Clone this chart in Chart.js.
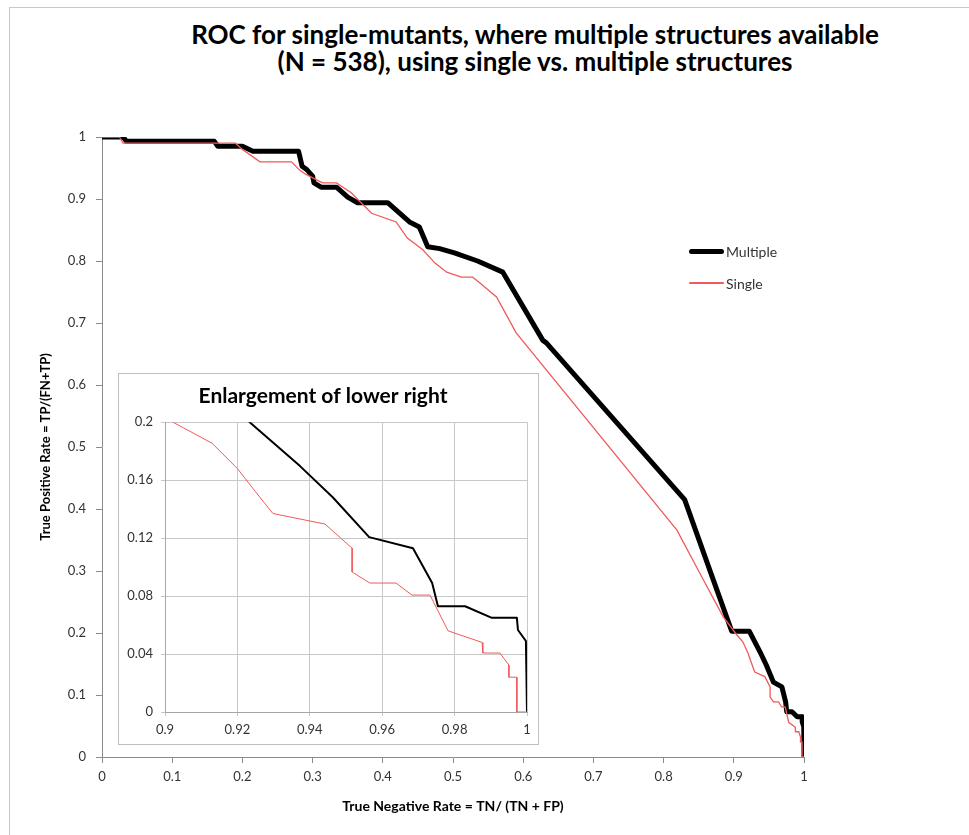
<!DOCTYPE html>
<html>
<head>
<meta charset="utf-8">
<script src="https://cdn.jsdelivr.net/npm/chart.js@4.4.1/dist/chart.umd.min.js"></script>
<style>
    body { margin: 0; background: #fff; font-family: Lato, "Open Sans", sans-serif; }
    #wrap { position: relative; width: 969px; height: 835px; overflow: hidden; }
    #frame { position: absolute; left: 9px; top: 7px; width: 990px; height: 900px; border: 1px solid #c8c8c8; }
    #title { position: absolute; left: 135px; width: 800px; top: 21px; text-align: center;
             font-weight: bold; font-size: 26px; line-height: 27px; color: #000; }
    #mainCanvas { position: absolute; left: 0; top: 0; }
    #inset { position: absolute; left: 118px; top: 373px; width: 421px; height: 372px;
             border: 1px solid #bfbfbf; background: #fff; box-sizing: border-box; }
    #insetCanvas { position: absolute; left: 0; top: 0; }
    #legend { position: absolute; left: 689px; top: 240px; font-size: 14px; color: #333; }
    .item { display: flex; align-items: center; height: 22px; margin-bottom: 10px; }
    .swatch { width: 35px; margin-right: 2px; border-radius: 3px; }
</style>
</head>
<body>
<div id="wrap">
    <div id="frame"></div>
    <div id="title">ROC for single-mutants, where multiple structures available<br>(N = 538), using single vs. multiple structures</div>
    <canvas id="mainCanvas" width="969" height="835"></canvas>
    <div id="legend"></div>
    <div id="inset"><canvas id="insetCanvas" width="419" height="370"></canvas></div>
</div>
<script>
// Series (x = true negative rate, y = true positive rate)
const seriesNames = ["Multiple", "Single"];

const multipleX = [0, 0.03, 0.035, 0.16, 0.165, 0.2, 0.215, 0.28, 0.285, 0.292, 0.30, 0.302, 0.312, 0.334,
    0.35, 0.364, 0.407, 0.438, 0.452, 0.464, 0.481, 0.502, 0.535, 0.571, 0.628, 0.633, 0.83, 0.87, 0.897,
    0.922, 0.9373, 0.9464, 0.9564, 0.9685, 0.9738, 0.9754, 0.9829, 0.9903, 0.9972, 0.9975, 0.9997, 1];
const multipleY = [1, 1, 0.993, 0.993, 0.985, 0.985, 0.977, 0.977, 0.953, 0.947, 0.937, 0.926, 0.919, 0.919,
    0.903, 0.894, 0.894, 0.863, 0.855, 0.823, 0.82, 0.813, 0.80, 0.782, 0.672, 0.668, 0.415, 0.288, 0.203,
    0.203, 0.1697, 0.148, 0.1207, 0.113, 0.089, 0.073, 0.073, 0.065, 0.065, 0.0566, 0.049, 0];

const singleX = [0, 0.025, 0.03, 0.19, 0.2, 0.225, 0.27, 0.281, 0.29, 0.314, 0.334, 0.355, 0.384, 0.419,
    0.435, 0.457, 0.474, 0.491, 0.512, 0.528, 0.538, 0.562, 0.59, 0.819, 0.856, 0.885, 0.9022, 0.913, 0.92,
    0.925, 0.9298, 0.9442, 0.9517, 0.9517, 0.9566, 0.9638, 0.9682, 0.9732, 0.9782, 0.9876, 0.9878, 0.9925,
    0.995, 0.995, 0.9972, 0.9972, 1];
const singleY = [1, 1, 0.99, 0.99, 0.98, 0.96, 0.96, 0.947, 0.94, 0.926, 0.926, 0.91, 0.877, 0.863,
    0.837, 0.818, 0.797, 0.782, 0.774, 0.774, 0.765, 0.742, 0.684, 0.366, 0.287, 0.226, 0.2, 0.1855, 0.168,
    0.152, 0.137, 0.1297, 0.113, 0.0966, 0.089, 0.089, 0.0807, 0.0807, 0.056, 0.048, 0.0407, 0.0407,
    0.0324, 0.024, 0.024, 0, 0];

// Tick labels
const mainTicks = [0, 0.1, 0.2, 0.3, 0.4, 0.5, 0.6, 0.7, 0.8, 0.9, 1];
const mainTickLabels = ["0", "0.1", "0.2", "0.3", "0.4", "0.5", "0.6", "0.7", "0.8", "0.9", "1"];
const insetXTicks = [0.9, 0.92, 0.94, 0.96, 0.98, 1];
const insetXLabels = ["0.9", "0.92", "0.94", "0.96", "0.98", "1"];
const insetYTicks = [0, 0.04, 0.08, 0.12, 0.16, 0.2];
const insetYLabels = ["0", "0.04", "0.08", "0.12", "0.16", "0.2"];

const xTitle = "True Negative Rate = TN/ (TN + FP)";
const yTitle = "True Positive Rate = TP/(FN+TP)";
const insetTitle = "Enlargement of lower right";

const FONT = "Lato, 'Open Sans', sans-serif";
const RED = "#f05a5a";

const toPoints = (xs, ys) => xs.map((x, i) => ({ x: x, y: ys[i] }));

function makeDatasets(blackWidth, redWidth) {
    return [
        { label: seriesNames[0], data: toPoints(multipleX, multipleY), borderColor: "#000",
          borderWidth: blackWidth, showLine: true, pointRadius: 0, borderJoinStyle: "round", order: 1 },
        { label: seriesNames[1], data: toPoints(singleX, singleY), borderColor: RED,
          borderWidth: redWidth, showLine: true, pointRadius: 0, order: 0 }
    ];
}

function fixedTicks(values) {
    return scale => { scale.ticks = values.map(v => ({ value: v })); };
}

Chart.defaults.font.family = FONT;
Chart.defaults.animation = false;

// Main chart
const mainChart = new Chart(document.getElementById("mainCanvas"), {
    type: "scatter",
    data: { datasets: makeDatasets(5, 1.3) },
    options: {
        responsive: false,
        layout: { padding: { left: 0, top: 137, right: 165, bottom: 0 } },
        plugins: { legend: { display: false }, tooltip: { enabled: false } },
        scales: {
            x: {
                type: "linear", min: 0, max: 1,
                afterBuildTicks: fixedTicks(mainTicks),
                afterFit: s => { s.height = 78; },
                ticks: { callback: (v, i) => mainTickLabels[i], color: "#333", font: { size: 13 },
                         padding: 6, maxRotation: 0, autoSkip: false },
                grid: { drawOnChartArea: false, tickLength: 6, color: "#8c8c8c" },
                border: { color: "#8c8c8c" },
                title: { display: true, text: xTitle, color: "#000", font: { size: 14, weight: "bold" },
                         padding: { top: 0, bottom: 20 } }
            },
            y: {
                type: "linear", min: 0, max: 1,
                afterBuildTicks: fixedTicks(mainTicks),
                afterFit: s => { s.width = 102; },
                ticks: { callback: (v, i) => mainTickLabels[i], color: "#333", font: { size: 13 },
                         padding: 10, autoSkip: false },
                grid: { drawOnChartArea: false, tickLength: 6, color: "#8c8c8c" },
                border: { color: "#8c8c8c" },
                title: { display: true, text: yTitle, color: "#000", font: { size: 13, weight: "bold" },
                         padding: { top: 38, bottom: 0 } }
            }
        }
    }
});

// Legend built from the datasets
const legend = document.getElementById("legend");
mainChart.data.datasets.forEach(ds => {
    const item = document.createElement("div");
    item.className = "item";
    const sw = document.createElement("span");
    sw.className = "swatch";
    sw.style.height = ds.borderWidth + "px";
    sw.style.background = ds.borderColor;
    const txt = document.createElement("span");
    txt.textContent = ds.label;
    item.appendChild(sw);
    item.appendChild(txt);
    legend.appendChild(item);
});

// Inset: same data, zoomed to the lower right corner
new Chart(document.getElementById("insetCanvas"), {
    type: "scatter",
    data: { datasets: makeDatasets(2, 1) },
    options: {
        responsive: false,
        layout: { padding: { left: 0, top: 0, right: 11, bottom: 0 } },
        plugins: {
            legend: { display: false }, tooltip: { enabled: false },
            title: { display: true, text: insetTitle, color: "#000", font: { size: 21, weight: "bold" },
                     padding: { top: 10, bottom: 13 } }
        },
        scales: {
            x: {
                type: "linear", min: 0.9, max: 1,
                afterBuildTicks: fixedTicks(insetXTicks),
                afterFit: s => { s.height = 32; },
                ticks: { callback: (v, i) => insetXLabels[i], color: "#333", font: { size: 13 },
                         padding: 6, maxRotation: 0, autoSkip: false },
                grid: { color: "#c8c8c8", tickLength: 4 },
                border: { color: "#a6a6a6" }
            },
            y: {
                type: "linear", min: 0, max: 0.2,
                afterBuildTicks: fixedTicks(insetYTicks),
                afterFit: s => { s.width = 46; },
                ticks: { callback: (v, i) => insetYLabels[i], color: "#333", font: { size: 13 },
                         padding: 8, autoSkip: false },
                grid: { color: "#c8c8c8", tickLength: 4 },
                border: { color: "#a6a6a6" }
            }
        }
    }
});
</script>
</body>
</html>
